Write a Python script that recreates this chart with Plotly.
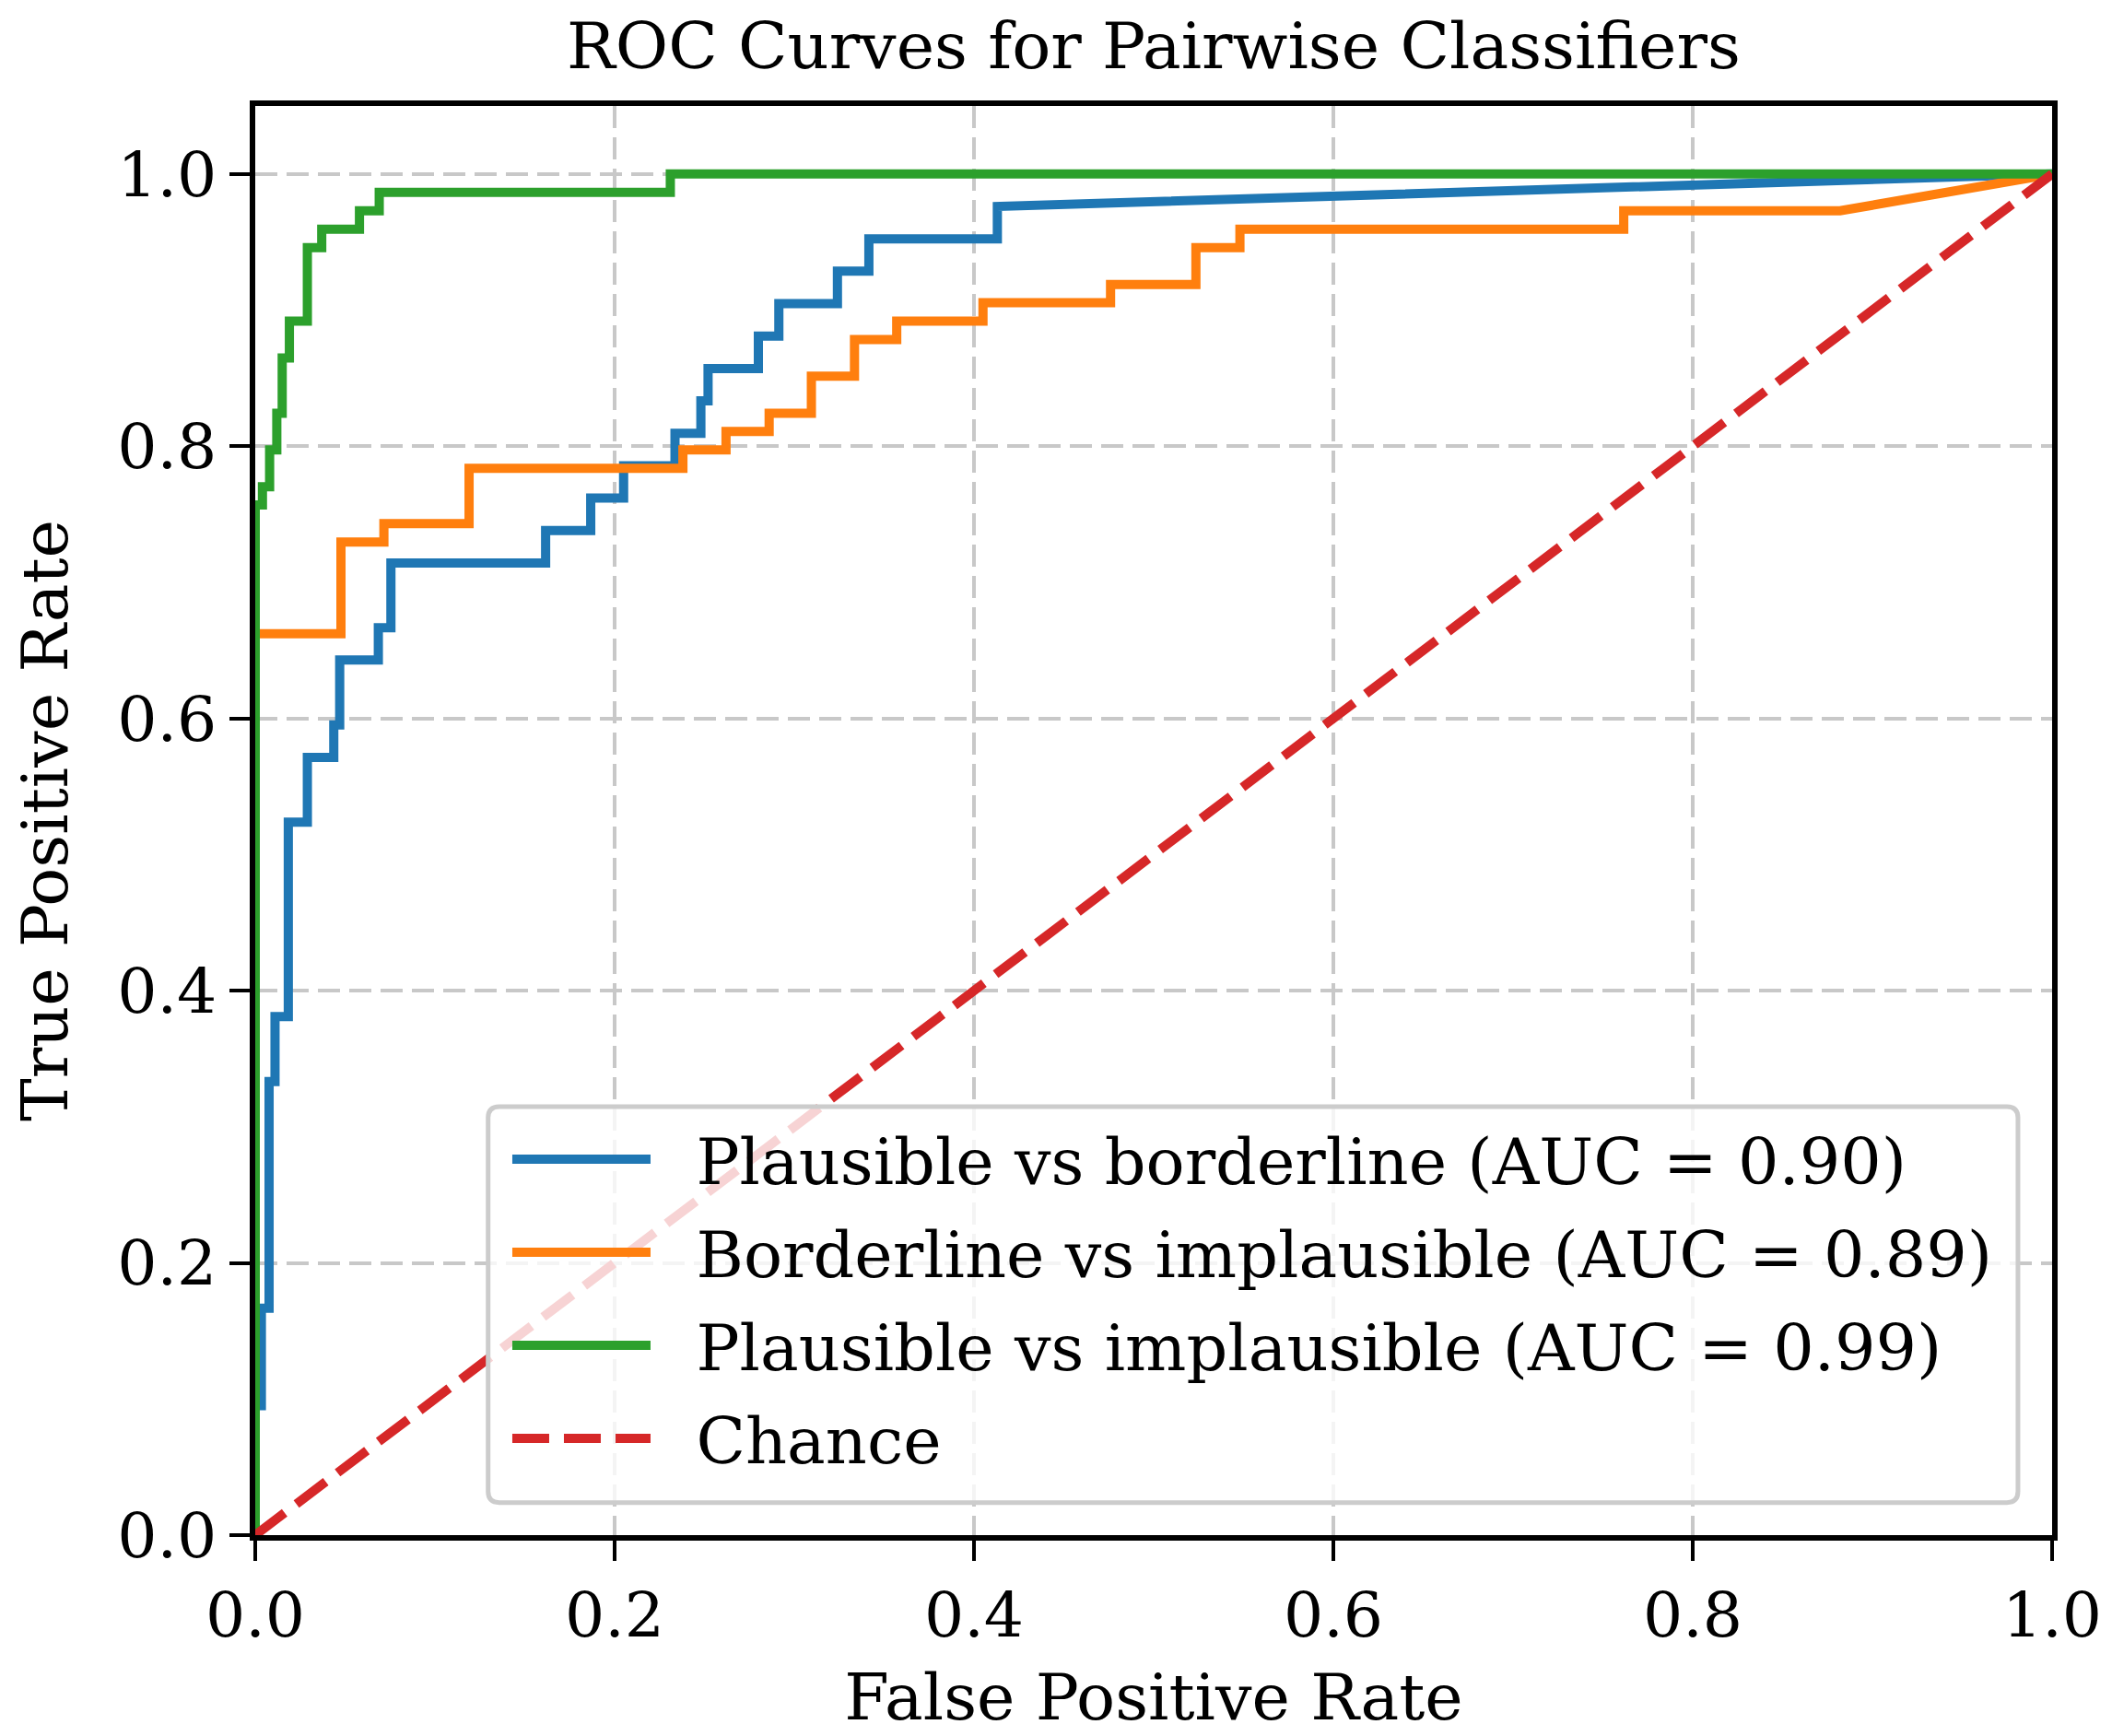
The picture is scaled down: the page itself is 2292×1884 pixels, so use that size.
import plotly.graph_objects as go

# ROC curve corner points
blue_fpr = [0, 0, 0.0034, 0.0034, 0.0077, 0.0077, 0.011, 0.011, 0.0184, 0.0184,
            0.029, 0.029, 0.0437, 0.0437, 0.047, 0.047, 0.0685, 0.0685, 0.0755, 0.0755,
            0.1616, 0.1616, 0.1867, 0.1867, 0.205, 0.205, 0.2336, 0.2336, 0.248, 0.248,
            0.252, 0.252, 0.28, 0.28, 0.2914, 0.2914, 0.324, 0.324, 0.3415, 0.3415,
            0.413, 0.413, 1.0]
blue_tpr = [0, 0.0952, 0.0952, 0.1667, 0.1667, 0.3333, 0.3333, 0.381, 0.381, 0.5238,
            0.5238, 0.5714, 0.5714, 0.5952, 0.5952, 0.6429, 0.6429, 0.6667, 0.6667, 0.7143,
            0.7143, 0.7381, 0.7381, 0.7619, 0.7619, 0.7857, 0.7857, 0.8095, 0.8095, 0.8333,
            0.8333, 0.8571, 0.8571, 0.881, 0.881, 0.9048, 0.9048, 0.9286, 0.9286, 0.9524,
            0.9524, 0.9762, 1.0]

orange_fpr = [0, 0, 0.0477, 0.0477, 0.0716, 0.0716, 0.119, 0.119, 0.238, 0.238,
              0.262, 0.262, 0.286, 0.286, 0.3095, 0.3095, 0.3335, 0.3335, 0.357, 0.357,
              0.405, 0.405, 0.476, 0.476, 0.5235, 0.5235, 0.548, 0.548, 0.7616, 0.7616,
              0.882, 0.92, 0.965, 1.0]
orange_tpr = [0, 0.6622, 0.6622, 0.7297, 0.7297, 0.7432, 0.7432, 0.7838, 0.7838, 0.7973,
              0.7973, 0.8108, 0.8108, 0.8243, 0.8243, 0.8514, 0.8514, 0.8784, 0.8784, 0.8919,
              0.8919, 0.9054, 0.9054, 0.9189, 0.9189, 0.9459, 0.9459, 0.9595, 0.9595, 0.973,
              0.973, 0.982, 0.993, 1.0]

green_fpr = [0, 0, 0.004, 0.004, 0.008, 0.008, 0.012, 0.012, 0.015, 0.015,
             0.019, 0.019, 0.029, 0.029, 0.037, 0.037, 0.058, 0.058, 0.069, 0.069,
             0.231, 0.231, 1.0]
green_tpr = [0, 0.7568, 0.7568, 0.7703, 0.7703, 0.7973, 0.7973, 0.8243, 0.8243, 0.8649,
             0.8649, 0.8919, 0.8919, 0.9459, 0.9459, 0.9595, 0.9595, 0.973, 0.973, 0.9865,
             0.9865, 1.0, 1.0]

chance = [0, 1]

names = ['Plausible vs borderline (AUC = 0.90)',
         'Borderline vs implausible (AUC = 0.89)',
         'Plausible vs implausible (AUC = 0.99)',
         'Chance']
colors = ['#1f77b4', '#ff7f0e', '#2ca02c', '#d62728']

ticks = [0.0, 0.2, 0.4, 0.6, 0.8, 1.0]
tick_text = ['0.0', '0.2', '0.4', '0.6', '0.8', '1.0']

FONT = 'DejaVu Serif'
FS = 70
TICK_FS = 68
GAP = '\u00a0\u00a0'  # space between legend line and label

fig = go.Figure()

curves = [(blue_fpr, blue_tpr), (orange_fpr, orange_tpr), (green_fpr, green_tpr)]
for i, (fx, ty) in enumerate(curves):
    fig.add_trace(go.Scatter(x=fx, y=ty, mode='lines', name=GAP + names[i],
                             legendgroup=str(i),
                             line=dict(color=colors[i], width=10)))

fig.add_trace(go.Scatter(x=chance, y=chance, mode='lines', name=GAP + names[3],
                         legendgroup='3',
                         line=dict(color=colors[3], width=10, dash='40px,16px')))

axis_style = dict(showline=True, linecolor='black', linewidth=6, mirror=True,
                  ticks='outside', ticklen=22, tickwidth=4, tickcolor='black',
                  tickvals=ticks, ticktext=tick_text,
                  tickfont=dict(family=FONT, size=TICK_FS, color='black'),
                  showgrid=True, gridcolor='#c8c8c8', gridwidth=4, griddash='24px,10px',
                  zeroline=False)

fig.update_xaxes(range=[0, 1], **axis_style,
                 title=dict(text='False Positive Rate', standoff=28,
                            font=dict(family=FONT, size=FS, color='black')))
fig.update_yaxes(range=[0, 1.05], **axis_style,
                 title=dict(text='True Positive Rate', standoff=38,
                            font=dict(family=FONT, size=FS, color='black')))

# legend frame: rounded box, semi-transparent white like matplotlib's
bx0, bx1, by0, by1 = 0.1296, 0.9810, 0.0228, 0.2998
rx, ry = 0.0062, 0.0078
frame = (f'M {bx0 + rx},{by0} L {bx1 - rx},{by0} Q {bx1},{by0} {bx1},{by0 + ry} '
         f'L {bx1},{by1 - ry} Q {bx1},{by1} {bx1 - rx},{by1} '
         f'L {bx0 + rx},{by1} Q {bx0},{by1} {bx0},{by1 - ry} '
         f'L {bx0},{by0 + ry} Q {bx0},{by0} {bx0 + rx},{by0} Z')
fig.add_shape(type='path', path=frame, xref='paper', yref='paper', layer='above',
              fillcolor='rgba(255,255,255,0.8)', line=dict(color='#cccccc', width=5))

fig.update_layout(
    width=2292, height=1884,
    margin=dict(l=269, r=73, t=107, b=226, autoexpand=False),
    paper_bgcolor='white', plot_bgcolor='white',
    title=dict(text='ROC Curves for Pairwise Classifiers', x=0.5, xref='paper',
               y=0.978, yanchor='middle',
               font=dict(family=FONT, size=FS, color='black')),
    legend=dict(x=0.1405, xanchor='left', y=0.2966, yanchor='top',
                bgcolor='rgba(0,0,0,0)', borderwidth=0,
                font=dict(family=FONT, size=FS, color='black'),
                traceorder='grouped', tracegroupgap=7, itemwidth=150),
    showlegend=True,
)

fig.write_html('out.html')
